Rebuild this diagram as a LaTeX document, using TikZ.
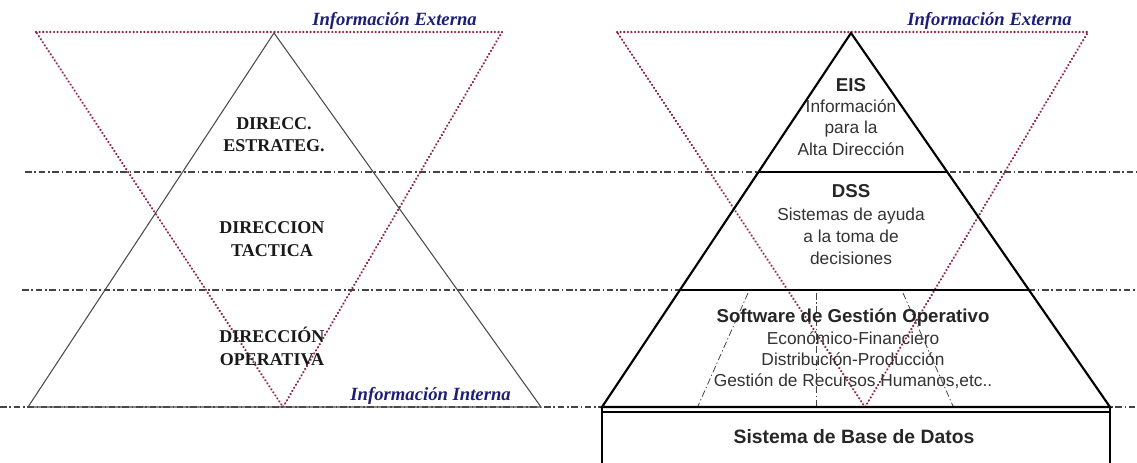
\documentclass[tikz,border=0pt]{standalone}
\usepackage{fontspec}
\setmainfont{Liberation Serif}
\newfontfamily\lsans{Liberation Sans}
\usetikzlibrary{calc}
\definecolor{dotred}{HTML}{8E2A48}
\definecolor{navyblue}{HTML}{1E1E78}
\definecolor{txtgray}{HTML}{333333}
\definecolor{guidegray}{HTML}{444444}
\begin{document}
\begin{tikzpicture}[x=0.75pt,y=-0.75pt,
  guide/.style={draw=guidegray,line width=0.8pt,dash pattern=on 5pt off 2pt on 1.2pt off 2pt},
  dotline/.style={draw=dotred,line width=1.9pt,line cap=round,dash pattern=on 0.01pt off 2.7pt},
  lefttri/.style={draw=black!70,line width=0.8pt},
  pyr/.style={draw=black,line width=1.6pt},
  slant/.style={draw=guidegray,line width=0.6pt,dash pattern=on 5pt off 2pt on 1pt off 2pt},
  infolabel/.style={font=\fontsize{14}{16}\selectfont\bfseries\itshape,text=navyblue,anchor=east,inner sep=0pt},
  levellabel/.style={font=\fontsize{13.5}{16}\selectfont\bfseries,text=black!90,inner sep=0pt,text height=0.68em,text depth=0pt},
  boldsans/.style={font=\lsans\fontsize{14}{16}\selectfont\bfseries,text=black!85,inner sep=0pt,text height=0.72em,text depth=0pt},
  plainsans/.style={font=\lsans\fontsize{13}{16}\selectfont,text=txtgray,inner sep=0pt,text height=0.72em,text depth=0pt}]
\useasboundingbox (0,0) rectangle (1137,462);
\clip (0,0) rectangle (1137,462);
\fill[white] (0,0) rectangle (1137,462);

% horizontal dash-dot guides
\coordinate (g1s) at (25,172);  \coordinate (g1e) at (1137,172);
\coordinate (g2s) at (22,290);  \coordinate (g2e) at (1137,290);
\coordinate (g3s) at (0,407);   \coordinate (g3e) at (1137,407);
\draw[guide] (g1s) -- (g1e);
\draw[guide] (g2s) -- (g2e);
\draw[guide] (g3s) -- (g3e);

% ---------- left panel ----------
\coordinate (LA) at (274,33);
\coordinate (LL) at (28,407);
\coordinate (LR) at (541,407);
\draw[lefttri] (LL) -- (LA) -- (LR) -- cycle;

\coordinate (LD1) at (36,32);
\coordinate (LD2) at (502,32);
\coordinate (LD3) at (283,407);
\draw[dotline] (LD1) -- (LD2) -- (LD3) -- cycle;

\node[levellabel] (l1a) at (274,125) {DIRECC.};
\node[levellabel] (l1b) at (274,147) {ESTRATEG.};
\node[levellabel] (l2a) at (272,229) {DIRECCION};
\node[levellabel] (l2b) at (272,252) {TACTICA};
\node[levellabel] (l3a) at (272,338) {DIRECCIÓN};
\node[levellabel] (l3b) at (272,361) {OPERATIVA};

\node[infolabel] (extL) at (477,21) {Información Externa};
\node[infolabel] (intL) at (511,396) {Información Interna};

% ---------- right panel ----------
\coordinate (RD1) at (617,32);
\coordinate (RD2) at (1088,32);
\coordinate (RD3) at (865,407);
\draw[dotline] (RD1) -- (RD2) -- (RD3) -- cycle;

\coordinate (RA) at (851,33);
\coordinate (RL) at (602,407);
\coordinate (RR) at (1110,407);
\coordinate (R1L) at ($(RA)!0.3717!(RL)$);
\coordinate (R1R) at ($(RA)!0.3717!(RR)$);
\coordinate (R2L) at ($(RA)!0.6872!(RL)$);
\coordinate (R2R) at ($(RA)!0.6872!(RR)$);

% slanted dash-dot lines in the operative band
\coordinate (s1a) at (748,293); \coordinate (s1b) at (698,406);
\coordinate (s2a) at (816,293); \coordinate (s2b) at (816,406);
\coordinate (s3a) at (903,293); \coordinate (s3b) at (953,406);
\draw[slant] (s1a) -- (s1b);
\draw[slant] (s2a) -- (s2b);
\draw[slant] (s3a) -- (s3b);

\fill[white] ($(R1L)+(2,-1)$) rectangle ($(R1R)+(-2,1)$);
\fill[white] ($(R2L)+(2,-1)$) rectangle ($(R2R)+(-2,1)$);
\draw[pyr,line join=miter] (RL) -- (RA) -- (RR) -- cycle;
\draw[pyr] (R1L) -- (R1R);
\draw[pyr] (R2L) -- (R2R);

% database box
\coordinate (BL) at (602,470);
\coordinate (BR) at (1110,470);
\coordinate (BTL) at (602,412);
\coordinate (BTR) at (1110,412);
\fill[white] (BTL) rectangle (BR);
\draw[pyr] (RL) -- (BL);
\draw[pyr] (RR) -- (BR);
\draw[draw=black,line width=0.8pt] (BTL) -- (BTR);

\node[boldsans] (eis) at (851,87) {EIS};
\node[plainsans] (eis1) at (851,108) {Información};
\node[plainsans] (eis2) at (851,129) {para la};
\node[plainsans] (eis3) at (851,151) {Alta Dirección};

\node[boldsans] (dss) at (851,193) {DSS};
\node[plainsans] (dss1) at (851,216) {Sistemas de ayuda};
\node[plainsans] (dss2) at (851,238) {a la toma de};
\node[plainsans] (dss3) at (851,260) {decisiones};

\node[boldsans] (sgo) at (853,318) {Software de Gestión Operativo};
\node[plainsans] (sgo1) at (853,340) {Económico-Financiero};
\node[plainsans] (sgo2) at (853,361) {Distribución-Producción};
\node[plainsans] (sgo3) at (853,382) {Gestión de Recursos Humanos,etc..};

\node[boldsans,font=\lsans\fontsize{14.5}{16}\selectfont\bfseries] (sbd) at (854,439) {Sistema de Base de Datos};

\node[infolabel] (extR) at (1072,21) {Información Externa};
\end{tikzpicture}
\end{document}
